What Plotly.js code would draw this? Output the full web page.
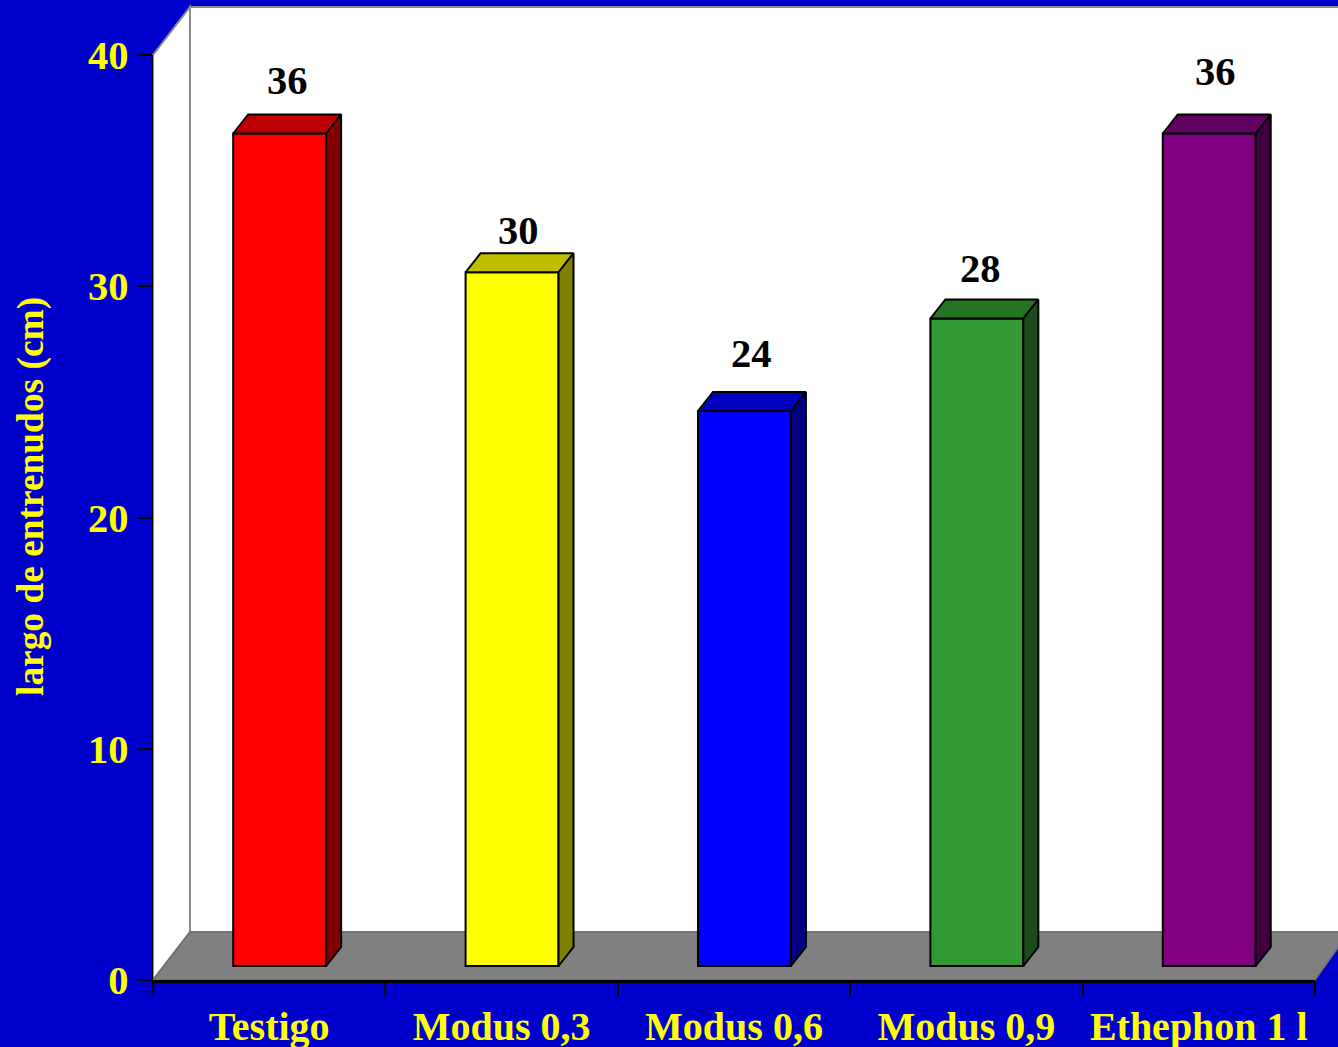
<!DOCTYPE html>
<html>
<head>
<meta charset="utf-8">
<script src="https://cdn.plot.ly/plotly-3.0.1.min.js"></script>
<style>html,body{margin:0;padding:0;background:#0000CC;overflow:hidden}</style>
</head>
<body>
<div id="chart"></div>
<script>
const categories = ["Testigo", "Modus 0,3", "Modus 0,6", "Modus 0,9", "Ethephon 1 l"];
const values = [36, 30, 24, 28, 36];
const frontColors = ["#FF0000", "#FFFF00", "#0000FF", "#339933", "#800080"];
const topColors = ["#BF0000", "#BFBF00", "#0000BF", "#267326", "#600060"];
const sideColors = ["#800000", "#808000", "#000080", "#1A4D1A", "#400040"];
const yTicks = [0, 10, 20, 30, 40];
const labelShiftX = [7.5, 6, 7.5, 4, 6];
const labelShiftY = [34, 23, 39, 31, 43];

const W = 1338, H = 1047;
const L = 153, R = 1315, T = 55, B = 980;
const unitX = (R - L) / categories.length;
const unitY = (B - T) / 40;
const barWidth = 0.4, barOffset = -0.155;
const baseLift = 14 / unitY;
const depthX = 15 / unitX, depthY = 19 / unitY;
const serif = '"Liberation Serif", "Times New Roman", serif';
const edgeWidth = 2;

const px = x => (x - L) / (R - L);
const py = y => (B - y) / (B - T);
const poly = pts => pts.map((p, i) => (i ? 'L' : 'M') + px(p[0]) + ',' + py(p[1])).join(' ') + ' Z';
const wallEdge = {color: '#8C8C8C', width: 2};
const shapes = [
  {type: 'path', xref: 'paper', yref: 'paper', layer: 'below', fillcolor: '#FFFFFF', line: wallEdge,
   path: poly([[190, 7], [1345, 7], [1345, 932], [190, 932]])},
  {type: 'path', xref: 'paper', yref: 'paper', layer: 'below', fillcolor: '#FFFFFF', line: wallEdge,
   path: poly([[153, 55], [190, 7], [190, 932], [153, 980]])},
  {type: 'path', xref: 'paper', yref: 'paper', layer: 'below', fillcolor: '#808080', line: {color: '#6E6E6E', width: 1.5},
   path: poly([[153, 980], [190, 932], [1345, 932], [1345, 938], [1315, 980]])}
];

const traces = [{
  type: 'bar', x: categories, y: values, base: baseLift, width: barWidth, offset: barOffset,
  marker: {color: frontColors, line: {color: '#000000', width: edgeWidth}},
  hoverinfo: 'x+y', showlegend: false
}];

values.forEach((v, i) => {
  const left = i + barOffset, right = left + barWidth, top = v + baseLift;
  const face = (xs, ys, color) => ({
    type: 'scatter', mode: 'lines', xaxis: 'x2', yaxis: 'y', x: xs, y: ys, fill: 'toself', fillcolor: color,
    line: {color: '#000000', width: edgeWidth}, hoverinfo: 'skip', showlegend: false, cliponaxis: false
  });
  traces.push(face([left, right, right + depthX, left + depthX, left],
                   [top, top, top + depthY, top + depthY, top], topColors[i]));
  traces.push(face([right, right + depthX, right + depthX, right, right],
                   [top, top + depthY, baseLift + depthY, baseLift, top], sideColors[i]));
});

const annotations = values.map((v, i) => ({
  xref: 'x2', yref: 'y', x: i + barOffset + barWidth / 2, y: v + baseLift + depthY,
  text: '<b>' + v + '</b>', showarrow: false, xanchor: 'center', yanchor: 'middle',
  xshift: labelShiftX[i], yshift: labelShiftY[i],
  font: {family: serif, size: 40.5, color: '#000000'}
}));
annotations.push({
  xref: 'paper', yref: 'paper', x: px(31), y: py(497), text: '<b>largo de entrenudos (cm)</b>',
  textangle: -90, showarrow: false, xanchor: 'center', yanchor: 'middle',
  font: {family: serif, size: 37.4, color: '#FFFF00'}
});

const layout = {
  width: W, height: H, autosize: false,
  margin: {l: L, r: W - R, t: T, b: H - B, pad: 0},
  paper_bgcolor: '#0000CC', plot_bgcolor: 'rgba(0,0,0,0)',
  showlegend: false, bargap: 0.6,
  font: {family: serif, color: '#FFFF00'},
  shapes: shapes, annotations: annotations,
  xaxis: {
    type: 'category', categories: categories, range: [-0.5, 4.5], tickson: 'boundaries',
    ticks: 'outside', ticklen: 13, tickwidth: 2, tickcolor: '#000000', ticklabelstandoff: 9,
    showline: true, linecolor: '#000000', linewidth: 2.5, showgrid: false, zeroline: false,
    tickfont: {family: serif, size: 40, color: '#FFFF00', weight: 'bold'}, fixedrange: true
  },
  xaxis2: {
    type: 'linear', overlaying: 'x', anchor: 'y', side: 'bottom', range: [-0.5, 4.5],
    visible: false, fixedrange: true
  },
  yaxis: {
    range: [0, 40], tickmode: 'array', tickvals: yTicks, ticktext: yTicks.map(String),
    ticks: 'outside', ticklen: 15, tickwidth: 2, tickcolor: '#000000',
    showline: true, linecolor: '#000000', linewidth: 1.5, showgrid: false, zeroline: false,
    tickfont: {family: serif, size: 40.5, color: '#FFFF00', weight: 'bold'}, fixedrange: true
  }
};

Plotly.newPlot('chart', traces, layout, {displayModeBar: false, staticPlot: true});
</script>
</body>
</html>
